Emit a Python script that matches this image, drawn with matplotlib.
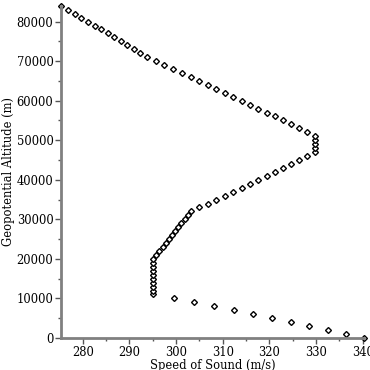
import matplotlib
matplotlib.use("Agg")
import matplotlib.pyplot as plt
from matplotlib.ticker import MultipleLocator

# geopotential altitude (m), every 1000 m from 0 to 84000
altitude = [h * 1000 for h in range(0, 85)]

# speed of sound (m/s) read for each altitude
speed = [
    340.29, 336.43, 332.53, 328.58, 324.59, 320.54, 316.45, 312.31, 308.11, 303.79,
    299.53, 295.07, 295.07, 295.07, 295.07, 295.07, 295.07, 295.07, 295.07, 295.07,
    295.07, 295.75, 296.43, 297.11, 297.78, 298.46, 299.13, 299.80, 300.47, 301.13,
    301.80, 302.47, 303.13, 304.98, 306.82, 308.65, 310.47, 312.28, 314.07, 315.86,
    317.63, 319.40, 321.16, 322.90, 324.64, 326.37, 328.09, 329.80, 329.80, 329.80,
    329.80, 329.80, 328.09, 326.37, 324.64, 322.90, 321.16, 319.40, 317.63, 315.86,
    314.07, 312.28, 310.47, 308.65, 306.82, 304.98, 303.13, 301.27, 299.39, 297.51,
    295.61, 293.70, 292.33, 290.95, 289.57, 288.18, 286.78, 285.38, 283.96, 282.55,
    281.12, 279.69, 278.25, 276.80, 275.34,
]

plt.rcParams['font.family'] = ['DejaVu Serif']
plt.rcParams['font.size'] = 8.3

fig = plt.figure(figsize=(3.7, 3.7), dpi=100)
ax = fig.add_axes([0.165, 0.0865, 0.819, 0.898])

ax.plot(speed, altitude, linestyle='none', marker='D', markersize=3,
        markerfacecolor='white', markeredgecolor='black', markeredgewidth=1,
        clip_on=False)

ax.set_xlim(min(speed), max(speed))
ax.set_ylim(0, 84000)
ax.xaxis.set_major_locator(MultipleLocator(10))
ax.xaxis.set_minor_locator(MultipleLocator(5))
ax.yaxis.set_major_locator(MultipleLocator(10000))
ax.yaxis.set_minor_locator(MultipleLocator(5000))

for s in ['top', 'right']:
    ax.spines[s].set_visible(False)
for s in ['left', 'bottom']:
    ax.spines[s].set_color('#808080')
    ax.spines[s].set_linewidth(2)
ax.tick_params(which='major', length=4, width=1, color='#555555', pad=1.5)
ax.tick_params(which='minor', length=2.5, width=1, color='#555555')

ax.set_xlabel("Speed of Sound (m/s)", labelpad=0)
ax.set_ylabel("Geopotential Altitude (m)", labelpad=1)

fig.savefig("out.png", dpi=100)
